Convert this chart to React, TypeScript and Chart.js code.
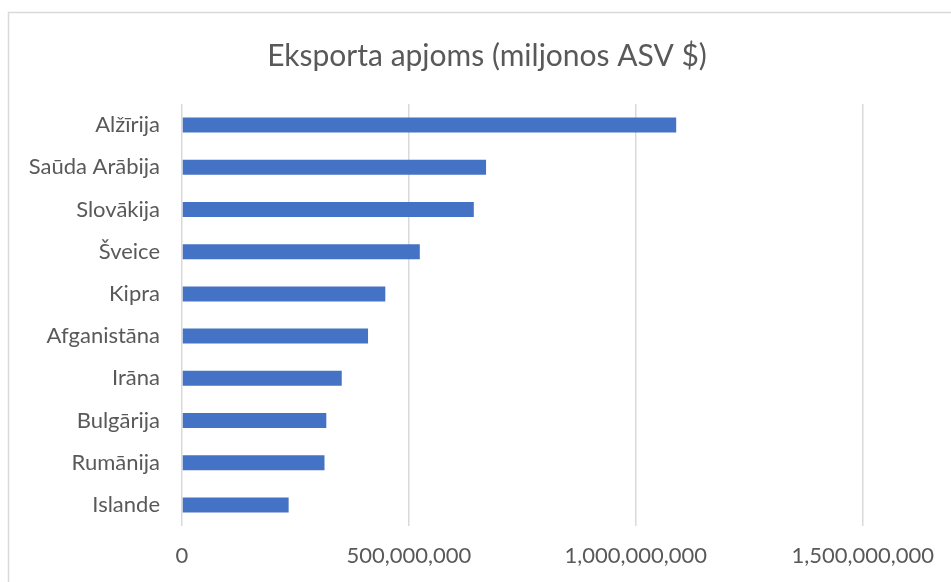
import { useEffect, useRef } from "react";
import { Chart, registerables } from "chart.js";

Chart.register(...registerables);

const countries = [
  "Alžīrija",
  "Saūda Arābija",
  "Slovākija",
  "Šveice",
  "Kipra",
  "Afganistāna",
  "Irāna",
  "Bulgārija",
  "Rumānija",
  "Islande",
];
const exportValues = [
  1089000000, 670000000, 643000000, 524000000, 448000000, 410000000, 352000000,
  318000000, 314000000, 235000000,
];
const xTicks = [0, 500000000, 1000000000, 1500000000];
const chartTitle = "Eksporta apjoms (miljonos ASV $)";

const FONT = "Lato, 'Noto Sans', sans-serif";
const TEXT = "#595959";
const GRID = "#d9d9d9";

const frame = {
  id: "frame",
  beforeDraw(chart: any) {
    const ctx = chart.ctx;
    ctx.save();
    ctx.fillStyle = "#ffffff";
    ctx.fillRect(0, 0, chart.width, chart.height);
    ctx.strokeStyle = GRID;
    ctx.lineWidth = 1.5;
    ctx.strokeRect(8.5, 12.5, chart.width + 20, chart.height + 20);
    ctx.restore();
  },
};

export default function App() {
  const ref = useRef<HTMLCanvasElement | null>(null);

  useEffect(() => {
    if (!ref.current) return;
    const chart = new Chart(ref.current, {
      type: "bar",
      data: {
        labels: countries,
        datasets: [
          {
            data: exportValues,
            backgroundColor: "#4472C4",
            borderWidth: 0,
            categoryPercentage: 1,
            barPercentage: 0.355,
          },
        ],
      },
      options: {
        indexAxis: "y",
        responsive: false,
        animation: false,
        layout: { padding: { left: 23, right: 0, top: 0, bottom: 0 } },
        plugins: {
          legend: { display: false },
          tooltip: { enabled: false },
          title: {
            display: true,
            text: chartTitle,
            color: TEXT,
            font: { family: FONT, size: 30, weight: "normal" },
            padding: { top: 38, bottom: 30 },
          },
        },
        scales: {
          x: {
            type: "linear",
            min: 0,
            max: 1500000000,
            afterBuildTicks: (s: any) => {
              s.ticks = xTicks.map((v) => ({ value: v }));
            },
            afterFit: (s: any) => {
              s.height = 56;
            },
            ticks: {
              color: TEXT,
              font: { family: FONT, size: 22 },
              padding: 17,
              maxRotation: 0,
              autoSkip: false,
              callback: (v: any) => Number(v).toLocaleString("en-US"),
            },
            grid: { color: GRID, lineWidth: 1.5, drawTicks: false },
            border: { display: false },
          },
          y: {
            type: "category",
            afterFit: (s: any) => {
              s.width = 159;
            },
            ticks: {
              color: TEXT,
              font: { family: FONT, size: 22 },
              padding: 22,
              autoSkip: false,
            },
            grid: { display: false, drawTicks: false },
            border: { display: false },
          },
          yPad: {
            type: "category",
            position: "right",
            labels: countries,
            afterFit: (s: any) => {
              s.width = 87;
            },
            ticks: { display: false },
            grid: { display: false, drawTicks: false },
            border: { display: false },
          },
        },
      } as any,
      plugins: [frame],
    });
    return () => chart.destroy();
  }, []);

  return (
    <div style={{ position: "fixed", left: 0, top: 0, width: 951, height: 582 }}>
      <canvas ref={ref} width={951} height={582} />
    </div>
  );
}
